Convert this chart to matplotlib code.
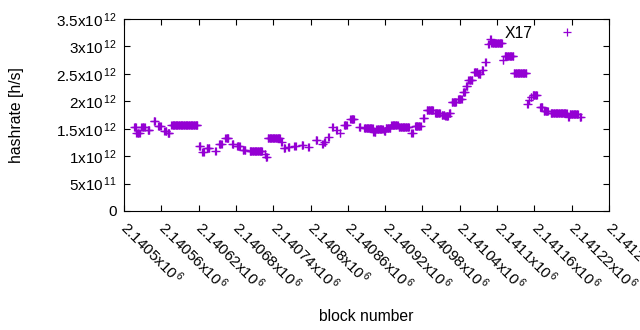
import numpy as np
import matplotlib
matplotlib.use("Agg")
import matplotlib.pyplot as plt

plt.rcParams['font.family'] = ['Liberation Sans', 'DejaVu Sans']
plt.rcParams['mathtext.fontset'] = 'custom'
plt.rcParams['mathtext.rm'] = 'Liberation Sans'
plt.rcParams['mathtext.it'] = 'Liberation Sans:italic'
plt.rcParams['mathtext.default'] = 'regular'

# Runs of blocks (offset from 2140500) with a constant hashrate, in 1e12 h/s
BASE_BLOCK = 2140500
seg_start = [16, 20, 28, 38, 48, 55, 65, 70, 76, 121, 126, 133, 147, 153, 163, 174,
             182, 191, 202, 226, 228, 231, 253, 257, 264, 274, 286, 296, 308, 319,
             322, 328, 335, 341, 347, 354, 364, 378, 386, 401, 406, 418, 421, 430,
             442, 462, 468, 481, 487, 500, 511, 517, 523, 527, 537, 545, 550, 554,
             563, 570, 575, 581, 586, 589, 591, 609, 612, 627, 648, 651, 654, 657,
             669, 675, 686, 714, 717, 733]
seg_end = [19, 25, 33, 41, 50, 59, 68, 73, 118, 123, 128, 137, 148, 157, 168, 176,
           186, 195, 222, 227, 230, 251, 254, 259, 266, 276, 288, 297, 310, 320,
           324, 329, 336, 342, 348, 358, 370, 380, 400, 404, 416, 420, 428, 440,
           458, 464, 477, 483, 497, 508, 515, 521, 525, 534, 543, 548, 552, 560,
           568, 573, 577, 582, 587, 590, 608, 610, 626, 647, 649, 652, 655, 664,
           673, 682, 712, 715, 730, 735]
seg_value = [1.535, 1.42, 1.535, 1.475, 1.645, 1.55, 1.46, 1.43, 1.56, 1.18, 1.08,
             1.14, 1.10, 1.23, 1.33, 1.23, 1.18, 1.12, 1.09, 1.04, 0.99, 1.335,
             1.25, 1.14, 1.165, 1.18, 1.195, 1.17, 1.29, 1.22, 1.26, 1.34, 1.535,
             1.475, 1.415, 1.56, 1.67, 1.535, 1.505, 1.445, 1.49, 1.46, 1.505,
             1.56, 1.525, 1.415, 1.55, 1.70, 1.84, 1.79, 1.745, 1.73, 1.78, 1.99,
             2.05, 2.17, 2.28, 2.385, 2.525, 2.495, 2.57, 2.71, 3.04, 3.13, 3.07,
             2.75, 2.82, 2.51, 1.95, 2.02, 2.07, 2.11, 1.89, 1.83, 1.78, 1.72,
             1.77, 1.705]

x_ticks_labels = ['2.1405', '2.14056', '2.14062', '2.14068', '2.14074', '2.1408',
                  '2.14086', '2.14092', '2.14098', '2.14104', '2.1411', '2.14116',
                  '2.14122', '2.14128']
y_ticks_labels = ['0', '5x10$^{\\,11}$', '1x10$^{\\,12}$', '1.5x10$^{\\,12}$',
                  '2x10$^{\\,12}$', '2.5x10$^{\\,12}$', '3x10$^{\\,12}$', '3.5x10$^{\\,12}$']

blocks = []
hashrate = []
for s, e, v in zip(seg_start, seg_end, seg_value):
    for b in range(s, e + 1):
        blocks.append(BASE_BLOCK + b)
        hashrate.append(v * 1e12)

fig = plt.figure(figsize=(6.4, 3.3), dpi=100)
ax = fig.add_axes([124 / 640, 1 - 211 / 330, 485 / 640, 192 / 330])

ax.plot(blocks, hashrate, linestyle='none', marker='+', markersize=6.0,
        markeredgewidth=0.9, color='#9400D3', label='X17')

ax.set_xlim(2140500, 2141280)
ax.set_ylim(0, 3.5e12)

xt = [2140500 + 60 * i for i in range(len(x_ticks_labels))]
ax.set_xticks(xt)
ax.set_xticklabels([t + 'x10$^{\\,6}$' for t in x_ticks_labels], rotation=-45,
                   ha='left', va='center', rotation_mode='anchor')
ax.set_yticks([0.5e12 * i for i in range(len(y_ticks_labels))])
ax.set_yticklabels(y_ticks_labels)

ax.tick_params(direction='in', length=4, width=0.8, labelsize=11.0,
               top=True, right=True, pad=5)
ax.tick_params(axis='x', pad=10)
for sp in ax.spines.values():
    sp.set_linewidth(0.8)

ax.set_xlabel('block number', fontsize=11.3)
ax.xaxis.set_label_coords(0.5, -0.51)
ax.set_ylabel('hashrate [h/s]', fontsize=11.3)
ax.yaxis.set_label_coords(-0.207, 0.5)

ax.legend(loc='upper right', bbox_to_anchor=(0.945, 0.965), frameon=False,
          markerfirst=False, numpoints=1, fontsize=11.3, borderpad=0,
          borderaxespad=0, handlelength=2.0, handletextpad=1.2)

fig.savefig('out.png', dpi=100)
